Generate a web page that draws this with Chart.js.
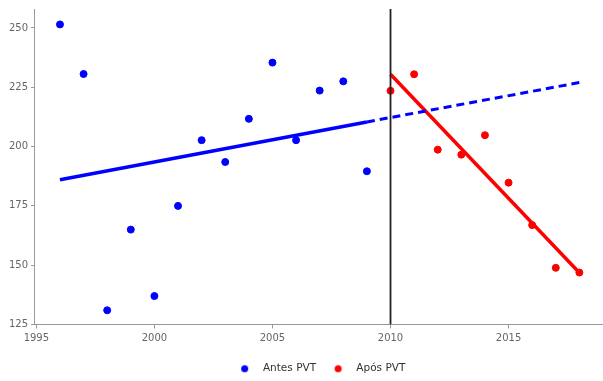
<!DOCTYPE html>
<html>
<head>
<meta charset="utf-8">
<script src="https://cdn.jsdelivr.net/npm/chart.js@4"></script>
<style>
  html, body { margin: 0; padding: 0; background: #fff; overflow: hidden; }
  #wrap { width: 603px; height: 381px; }
</style>
</head>
<body>
<div id="wrap"><canvas id="myChart"></canvas></div>
<script>
// points before / after PVT
const antesYears = [1996, 1997, 1998, 1999, 2000, 2001, 2002, 2003, 2004, 2005, 2006, 2007, 2008, 2009];
const antesValues = [251.5, 230.6, 131, 165, 137, 175, 202.7, 193.5, 211.7, 235.4, 202.7, 223.6, 227.5, 189.6];
const aposYears = [2010, 2011, 2012, 2013, 2014, 2015, 2016, 2017, 2018];
const aposValues = [223.5, 230.5, 198.7, 196.6, 204.8, 184.8, 166.9, 148.9, 146.9];

// trend lines (end points)
const antesTrendYears = [1996, 2009];
const antesTrendValues = [186, 210.4];
const antesProjYears = [2009, 2018];
const antesProjValues = [210.4, 227];
const aposTrendYears = [2010, 2018];
const aposTrendValues = [230.5, 146.8];

const cutYear = 2010;
const xTicks = [1995, 2000, 2005, 2010, 2015];
const yTicks = [125, 150, 175, 200, 225, 250];

function pts(xs, ys){
    return xs.map((x, i) => ({x: x, y: ys[i]}));
}

// little dot images for the legend (centered in a wide box)
function makeDot(color){
    const c = document.createElement('canvas');
    c.width = 9;
    c.height = 9;
    const g = c.getContext('2d');
    g.fillStyle = color;
    g.beginPath();
    g.arc(4.5, 4.5, 3.5, 0, Math.PI * 2);
    g.fill();
    return c;
}
const dots = [makeDot('#0000ff'), makeDot('#ff0000')];

const ctx = document.querySelector('#myChart').getContext('2d');
const myChart = new Chart(ctx, {
    type: 'scatter',
    data: {
        datasets: [
            {
                label: 'Antes PVT',
                data: pts(antesYears, antesValues),
                backgroundColor: '#0000ff',
                borderColor: '#0000ff',
                pointRadius: 3.5,
                pointStyle: 'circle'
            },
            {
                label: 'Após PVT',
                data: pts(aposYears, aposValues),
                backgroundColor: '#ff0000',
                borderColor: '#ff0000',
                pointRadius: 3.5,
                pointStyle: 'circle'
            },
            {
                label: 'trend1',
                type: 'line',
                data: pts(antesTrendYears, antesTrendValues),
                borderColor: '#0000ff',
                borderWidth: 3.5,
                pointRadius: 0
            },
            {
                label: 'trend1b',
                type: 'line',
                data: pts(antesProjYears, antesProjValues),
                borderColor: '#0000ff',
                borderWidth: 3,
                borderDash: [8, 5],
                pointRadius: 0
            },
            {
                label: 'trend2',
                type: 'line',
                data: pts(aposTrendYears, aposTrendValues),
                borderColor: '#ff0000',
                borderWidth: 3.5,
                pointRadius: 0
            },
            {
                label: 'cut',
                type: 'line',
                order: -1, // on top of the 2010 point
                data: [{x: cutYear, y: 125}, {x: cutYear, y: 258}],
                borderColor: '#222',
                borderWidth: 1.8,
                pointRadius: 0
            }
        ]
    },
    options: {
        responsive: true,
        maintainAspectRatio: false,
        animation: false,
        layout: {
            autoPadding: false,
            padding: { top: 7, right: 0, left: 0, bottom: -3 }
        },
        plugins: {
            tooltip: { enabled: false },
            legend: {
                position: 'bottom',
                fullSize: false,
                labels: {
                    usePointStyle: true,
                    pointStyleWidth: 26,
                    boxHeight: 6,
                    padding: 9,
                    color: '#333',
                    font: { family: 'DejaVu Sans', size: 10.5 },
                    generateLabels: chart => Chart.defaults.plugins.legend.labels.generateLabels(chart)
                        .filter(l => l.datasetIndex < 2)
                        .sort((a, b) => a.datasetIndex - b.datasetIndex)
                        .map(l => Object.assign(l, { pointStyle: dots[l.datasetIndex] }))
                }
            }
        },
        scales: {
            x: {
                type: 'linear',
                min: 1994.9,
                max: 2019,
                afterBuildTicks: scale => { scale.ticks = xTicks.map(v => ({value: v})); },
                afterFit: scale => { scale.height = 30; },
                grid: { drawOnChartArea: false, drawTicks: true, tickLength: 4, color: '#999' },
                border: { color: '#999', width: 1 },
                ticks: {
                    color: '#666',
                    font: { family: 'DejaVu Sans', size: 10 },
                    padding: 4,
                    callback: v => String(v)
                }
            },
            y: {
                min: 125,
                max: 258,
                afterBuildTicks: scale => { scale.ticks = yTicks.map(v => ({value: v})); },
                afterFit: scale => { scale.width = 34; },
                grid: { drawOnChartArea: false, drawTicks: true, tickLength: 3, color: '#999' },
                border: { color: '#999', width: 1 },
                ticks: {
                    color: '#666',
                    font: { family: 'DejaVu Sans', size: 10 },
                    padding: 3
                }
            }
        }
    }
});
</script>
</body>
</html>
